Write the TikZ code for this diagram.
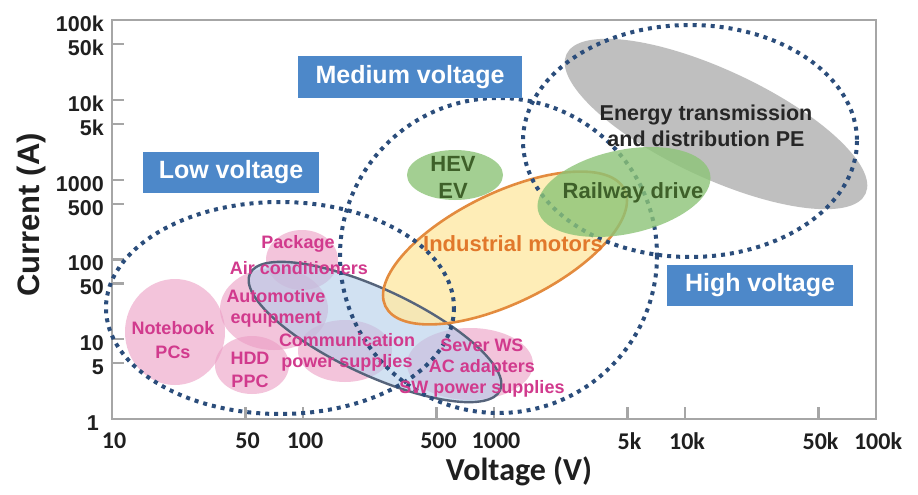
\documentclass[tikz,border=0pt]{standalone}
\usepackage{fontspec}
\setmainfont{Liberation Sans}
\newfontfamily\carl{Carlito}
\definecolor{framegray}{HTML}{A6A6A6}
\definecolor{dotblue}{HTML}{2B4D7B}
\definecolor{boxblue}{HTML}{4D88C9}
\definecolor{pinkf}{HTML}{EC9DC4}
\definecolor{pinktext}{HTML}{D13A8D}
\definecolor{bluef}{HTML}{B3CDEA}
\definecolor{blueedge}{HTML}{56647B}
\definecolor{yellowf}{HTML}{FEE9A6}
\definecolor{orangeedge}{HTML}{E38B3E}
\definecolor{orangetext}{HTML}{E1782B}
\definecolor{greenf}{HTML}{8CC477}
\definecolor{greentext}{HTML}{3E6029}
\definecolor{grayf}{HTML}{BFBFBF}
\definecolor{darktext}{HTML}{262626}
\definecolor{labeltext}{HTML}{1F1F1F}
\begin{document}
\begin{tikzpicture}[x=1pt,y=-1pt,
  axisline/.style={draw=framegray, line width=2.2pt},
  tickline/.style={draw=framegray, line width=2.2pt},
  dotbound/.style={draw=dotblue, line width=4pt, dash pattern=on 4pt off 5pt},
  pinkblob/.style={fill=pinkf, fill opacity=0.6},
  lbox/.style={fill=boxblue, text=white, inner sep=0pt, font=\fontsize{25}{30}\selectfont\bfseries},
  ptext/.style={text=pinktext, inner sep=0pt, align=center, font=\fontsize{18}{21}\selectfont\bfseries},
  gtext/.style={text=greentext, inner sep=0pt, align=center, font=\fontsize{22}{27}\selectfont\bfseries},
  otext/.style={text=orangetext, inner sep=0pt, font=\fontsize{22}{27}\selectfont\bfseries},
  etext/.style={text=darktext, inner sep=0pt, align=center, font=\fontsize{21.5}{26}\selectfont\bfseries},
  xlab/.style={text=labeltext, inner sep=0pt, font=\carl\bfseries\fontsize{24}{28}\selectfont},
  ylab/.style={text=labeltext, inner sep=0pt, anchor=east, font=\fontsize{21.5}{26}\selectfont\bfseries}
]
\useasboundingbox (0,0) rectangle (918,495);
\fill[white] (0,0) rectangle (918,495);

% frame and ticks
\draw[axisline] (112,20) rectangle (876,419);
\foreach \yy in {44,99.8,123.8,179.6,203.6,259.4,283.4,339.2,363.2}
  \draw[tickline] (112,\yy) -- (124,\yy);
\foreach \xx in {245.5,303,436.5,494,627.5,685,818.5}
  \draw[tickline] (\xx,419) -- (\xx,407);

% gray ellipse
\fill[grayf, rotate around={-25:(716,124)}] (716,124) ellipse [x radius=165, y radius=54];

% pink blobs
\fill[pinkblob] (175,332) ellipse [x radius=50, y radius=53];
\fill[pinkblob] (252,365) ellipse [x radius=37, y radius=29];
\fill[pinkblob] (274,309) ellipse [x radius=54, y radius=41];
\fill[pinkblob] (302,260) ellipse [x radius=36, y radius=30];
\fill[pinkblob] (345,351) ellipse [x radius=47, y radius=31];
\fill[pinkblob] (470,364) ellipse [x radius=63, y radius=36];

% blue and yellow ellipses
\fill[bluef, fill opacity=0.6, rotate around={-25:(375,332)}] (375,332) ellipse [x radius=138, y radius=43];
\fill[yellowf, fill opacity=0.8, rotate around={26:(505,248)}] (505,248) ellipse [x radius=133, y radius=55];
\draw[blueedge, line width=2.4pt, rotate around={-25:(375,332)}] (375,332) ellipse [x radius=138, y radius=43];
\draw[orangeedge, line width=2.6pt, rotate around={26:(505,248)}] (505,248) ellipse [x radius=133, y radius=55];

% dotted voltage regions
\draw[dotbound] (280,308) ellipse [x radius=174, y radius=106];
\draw[dotbound] (498.5,255.5) ellipse [x radius=158.5, y radius=157.5];
\draw[dotbound] (690,141) ellipse [x radius=167, y radius=116];

% green ellipses
\fill[greenf, fill opacity=0.8] (455,175) ellipse [x radius=48, y radius=25];
\fill[greenf, fill opacity=0.8, rotate around={12:(624,192)}] (624,192) ellipse [x radius=88, y radius=42];

% label boxes
\node[lbox, minimum width=224pt, minimum height=42pt] (medium) at (410,77) {Medium voltage};
\node[lbox, minimum width=176pt, minimum height=41pt] (low) at (231,172.5) {Low voltage};
\node[lbox, minimum width=186pt, minimum height=41pt] (high) at (760,285.5) {High voltage};

% region texts
\node[etext] (energy) at (706,126) {Energy transmission\\and distribution PE};
\node[gtext] (rail) at (633,193) {Railway drive};
\node[gtext] (hev) at (453,177) {HEV\\EV};
\node[otext] (ind) at (513,244) {Industrial motors};
\node[ptext] (pkg) at (298,244) {Package};
\node[ptext] (air) at (299,268) {Air conditioners};
\node[ptext] (auto) at (276,308.5) {Automotive\\equipment};
\node[ptext, font=\fontsize{18}{24}\selectfont\bfseries] (nb) at (173,340) {Notebook\\PCs};
\node[ptext, font=\fontsize{18}{23}\selectfont\bfseries] (hdd) at (250,369.5) {HDD\\PPC};
\node[ptext] (comm) at (347,352) {Communication\\power supplies};
\node[ptext] (sev) at (482,368) {Sever WS\\AC adapters\\SW power supplies};

% axis labels
\foreach \xx/\t/\n in {112/10/a,245.5/50/b,303/100/c,436.5/500/d,494/1000/e,627.5/5k/f,685/10k/g,818.5/50k/h,876/100k/i}
  \node[xlab] (xl\n) at (\xx+2,441) {\t};
\foreach \yy/\t/\n in {20/100k/a,44/50k/b,99.8/10k/c,123.8/5k/d,179.6/1000/e,203.6/500/f,259.4/100/g,283.4/50/h,339.2/10/i,363.2/5/j}
  \node[ylab] (yl\n) at (104,\yy+4) {\t};
\node[ylab] (ylk) at (99,423) {1};
\node[text=labeltext, rotate=90, font=\fontsize{31}{36}\selectfont\bfseries] (ytitle) at (31,215) {Current (A)};
\node[text=labeltext, font=\carl\bfseries\fontsize{32}{38}\selectfont] (xtitle) at (519,471) {Voltage (V)};
\end{tikzpicture}
\end{document}
